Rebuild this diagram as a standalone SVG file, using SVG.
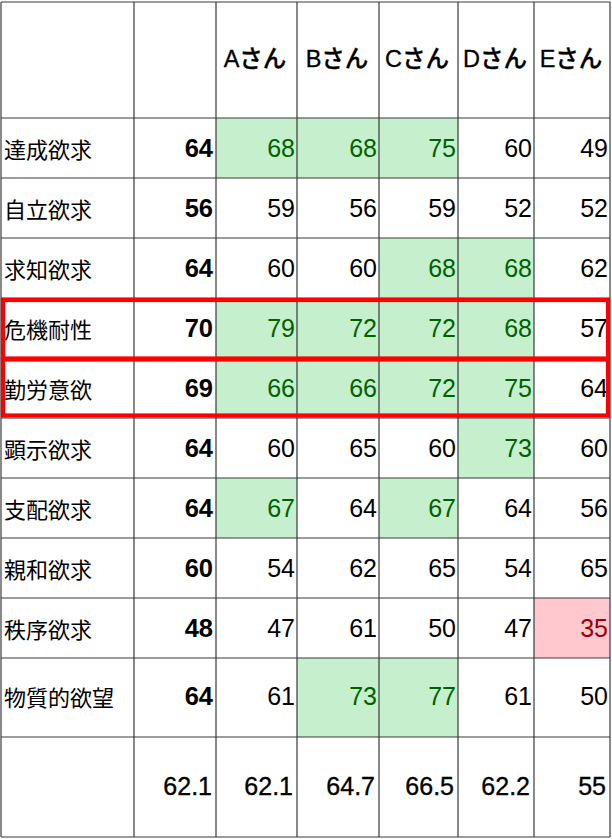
<svg xmlns="http://www.w3.org/2000/svg" width="612" height="839" viewBox="0 0 612 839">
<style>
text{font-family:"Liberation Sans","Noto Sans CJK JP",sans-serif;font-size:25px;fill:#000}
.lbl{font-size:22px}
.hd{text-anchor:middle;font-size:23.5px;font-weight:500;stroke:#000;stroke-width:0.3}
.b{text-anchor:end;font-weight:bold;font-size:25.5px}
.v{text-anchor:end}
.t{text-anchor:end;stroke:#000;stroke-width:0.35}
.g{fill:#006100}
.r{fill:#9C0006}
.gf{fill:#C6EFCE}
.pf{fill:#FFC7CE}
.grid line{stroke:#3a3a3a;stroke-width:1.2}
.hl{fill:none;stroke:#FF0000;stroke-width:4.2}
</style>
<rect width="612" height="839" fill="#fff"/>
<g id="fills">
<rect class="gf" x="216" y="118" width="81" height="60"/>
<rect class="gf" x="297" y="118" width="82" height="60"/>
<rect class="gf" x="379" y="118" width="79" height="60"/>
<rect class="gf" x="379" y="238" width="79" height="60"/>
<rect class="gf" x="458" y="238" width="76" height="60"/>
<rect class="gf" x="216" y="298" width="81" height="120"/>
<rect class="gf" x="297" y="298" width="82" height="120"/>
<rect class="gf" x="379" y="298" width="79" height="120"/>
<rect class="gf" x="458" y="298" width="76" height="120"/>
<rect class="gf" x="458" y="418" width="76" height="60"/>
<rect class="gf" x="216" y="478" width="81" height="60"/>
<rect class="gf" x="379" y="478" width="79" height="60"/>
<rect class="pf" x="534" y="598" width="76" height="60"/>
<rect class="gf" x="297" y="658" width="82" height="79"/>
<rect class="gf" x="379" y="658" width="79" height="79"/>
</g>
<g id="connectors" class="grid">
<line x1="1" y1="2" x2="1" y2="837"/>
<line x1="134" y1="2" x2="134" y2="837"/>
<line x1="216" y1="2" x2="216" y2="837"/>
<line x1="297" y1="2" x2="297" y2="837"/>
<line x1="379" y1="2" x2="379" y2="837"/>
<line x1="458" y1="2" x2="458" y2="837"/>
<line x1="534" y1="2" x2="534" y2="837"/>
<line x1="610" y1="2" x2="610" y2="837"/>
<line x1="1" y1="2" x2="610" y2="2"/>
<line x1="1" y1="118" x2="610" y2="118"/>
<line x1="1" y1="178" x2="610" y2="178"/>
<line x1="1" y1="238" x2="610" y2="238"/>
<line x1="1" y1="298" x2="610" y2="298"/>
<line x1="1" y1="358" x2="610" y2="358"/>
<line x1="1" y1="418" x2="610" y2="418"/>
<line x1="1" y1="478" x2="610" y2="478"/>
<line x1="1" y1="538" x2="610" y2="538"/>
<line x1="1" y1="598" x2="610" y2="598"/>
<line x1="1" y1="658" x2="610" y2="658"/>
<line x1="1" y1="737" x2="610" y2="737"/>
<line x1="1" y1="837" x2="610" y2="837"/>
</g>
<g id="header">
<text class="hd" x="255" y="67">Aさん</text>
<text class="hd" x="337" y="67">Bさん</text>
<text class="hd" x="417" y="67">Cさん</text>
<text class="hd" x="495" y="67">Dさん</text>
<text class="hd" x="571" y="67">Eさん</text>
</g>
<g id="row1">
<text class="lbl" x="4" y="158">達成欲求</text>
<text class="b" x="213" y="157">64</text>
<text class="v g" x="295" y="157">68</text>
<text class="v g" x="377" y="157">68</text>
<text class="v g" x="456" y="157">75</text>
<text class="v" x="532" y="157">60</text>
<text class="v" x="608" y="157">49</text>
</g>
<g id="row2">
<text class="lbl" x="4" y="218">自立欲求</text>
<text class="b" x="213" y="217">56</text>
<text class="v" x="295" y="217">59</text>
<text class="v" x="377" y="217">56</text>
<text class="v" x="456" y="217">59</text>
<text class="v" x="532" y="217">52</text>
<text class="v" x="608" y="217">52</text>
</g>
<g id="row3">
<text class="lbl" x="4" y="278">求知欲求</text>
<text class="b" x="213" y="277">64</text>
<text class="v" x="295" y="277">60</text>
<text class="v" x="377" y="277">60</text>
<text class="v g" x="456" y="277">68</text>
<text class="v g" x="532" y="277">68</text>
<text class="v" x="608" y="277">62</text>
</g>
<g id="row4">
<text class="lbl" x="4" y="338">危機耐性</text>
<text class="b" x="213" y="337">70</text>
<text class="v g" x="295" y="337">79</text>
<text class="v g" x="377" y="337">72</text>
<text class="v g" x="456" y="337">72</text>
<text class="v g" x="532" y="337">68</text>
<text class="v" x="608" y="337">57</text>
</g>
<g id="row5">
<text class="lbl" x="4" y="398">勤労意欲</text>
<text class="b" x="213" y="397">69</text>
<text class="v g" x="295" y="397">66</text>
<text class="v g" x="377" y="397">66</text>
<text class="v g" x="456" y="397">72</text>
<text class="v g" x="532" y="397">75</text>
<text class="v" x="608" y="397">64</text>
</g>
<g id="row6">
<text class="lbl" x="4" y="458">顕示欲求</text>
<text class="b" x="213" y="457">64</text>
<text class="v" x="295" y="457">60</text>
<text class="v" x="377" y="457">65</text>
<text class="v" x="456" y="457">60</text>
<text class="v g" x="532" y="457">73</text>
<text class="v" x="608" y="457">60</text>
</g>
<g id="row7">
<text class="lbl" x="4" y="518">支配欲求</text>
<text class="b" x="213" y="517">64</text>
<text class="v g" x="295" y="517">67</text>
<text class="v" x="377" y="517">64</text>
<text class="v g" x="456" y="517">67</text>
<text class="v" x="532" y="517">64</text>
<text class="v" x="608" y="517">56</text>
</g>
<g id="row8">
<text class="lbl" x="4" y="578">親和欲求</text>
<text class="b" x="213" y="577">60</text>
<text class="v" x="295" y="577">54</text>
<text class="v" x="377" y="577">62</text>
<text class="v" x="456" y="577">65</text>
<text class="v" x="532" y="577">54</text>
<text class="v" x="608" y="577">65</text>
</g>
<g id="row9">
<text class="lbl" x="4" y="638">秩序欲求</text>
<text class="b" x="213" y="637">48</text>
<text class="v" x="295" y="637">47</text>
<text class="v" x="377" y="637">61</text>
<text class="v" x="456" y="637">50</text>
<text class="v" x="532" y="637">47</text>
<text class="v r" x="608" y="637">35</text>
</g>
<g id="row10">
<text class="lbl" x="4" y="706">物質的欲望</text>
<text class="b" x="213" y="705">64</text>
<text class="v" x="295" y="705">61</text>
<text class="v g" x="377" y="705">73</text>
<text class="v g" x="456" y="705">77</text>
<text class="v" x="532" y="705">61</text>
<text class="v" x="608" y="705">50</text>
</g>
<g id="totals">
<text class="t" x="212" y="795">62.1</text>
<text class="t" x="293" y="795">62.1</text>
<text class="t" x="375" y="795">64.7</text>
<text class="t" x="454" y="795">66.5</text>
<text class="t" x="530" y="795">62.2</text>
<text class="t" x="606" y="795">55</text>
</g>
<g id="highlight">
<rect class="hl" x="3" y="300" width="605" height="58.5"/>
<rect class="hl" x="3" y="359.5" width="605" height="56"/>
</g>
</svg>
